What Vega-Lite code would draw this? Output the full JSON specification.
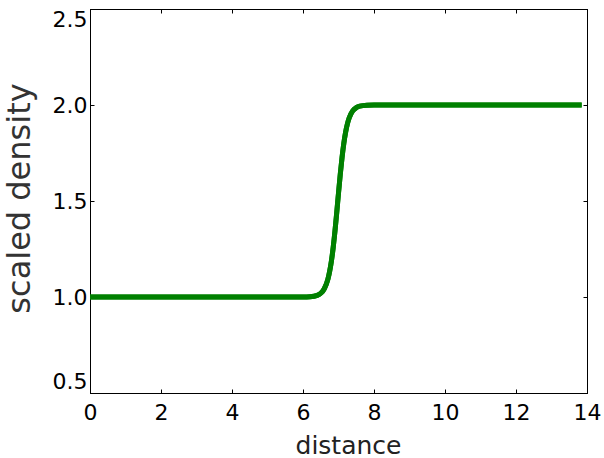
{
  "$schema": "https://vega.github.io/schema/vega-lite/v6.json",
  "width": 497,
  "height": 384,
  "autosize": "none",
  "padding": {"left": 90, "top": 9, "right": 17, "bottom": 65},
  "config": {
    "view": {"stroke": "black", "strokeWidth": 1},
    "font": "DejaVu Sans",
    "axis": {"grid": false, "domainColor": "black", "tickColor": "black", "labelColor": "black", "labelFont": "DejaVu Sans", "titleFont": "DejaVu Sans", "titleFontWeight": "normal", "labelFontSize": 22, "tickSize": -4}
  },
  "data": {"values": [
    {"distance": 0, "density": 1.0},
    {"distance": 3.0, "density": 1.0},
    {"distance": 5.5, "density": 1.0},
    {"distance": 6.0, "density": 1.0003},
    {"distance": 6.2, "density": 1.0017},
    {"distance": 6.4, "density": 1.0087},
    {"distance": 6.5, "density": 1.0195},
    {"distance": 6.6, "density": 1.043},
    {"distance": 6.7, "density": 1.0923},
    {"distance": 6.75, "density": 1.133},
    {"distance": 6.8, "density": 1.187},
    {"distance": 6.85, "density": 1.257},
    {"distance": 6.9, "density": 1.342},
    {"distance": 6.95, "density": 1.439},
    {"distance": 7.0, "density": 1.541},
    {"distance": 7.05, "density": 1.639},
    {"distance": 7.1, "density": 1.727},
    {"distance": 7.15, "density": 1.8},
    {"distance": 7.2, "density": 1.858},
    {"distance": 7.25, "density": 1.901},
    {"distance": 7.3, "density": 1.932},
    {"distance": 7.4, "density": 1.969},
    {"distance": 7.5, "density": 1.986},
    {"distance": 7.6, "density": 1.994},
    {"distance": 7.8, "density": 1.9988},
    {"distance": 8.0, "density": 1.9998},
    {"distance": 8.5, "density": 2.0},
    {"distance": 11.0, "density": 2.0},
    {"distance": 13.85, "density": 2.0}
  ]},
  "layer": [
    {
      "mark": {"type": "line", "color": "#008000", "strokeWidth": 5, "interpolate": "monotone", "clip": true},
      "encoding": {
        "x": {"field": "distance", "type": "quantitative", "scale": {"domain": [0, 14], "nice": false, "zero": false},
          "axis": {"orient": "bottom", "values": [0, 2, 4, 6, 8, 10, 12, 14], "labelPadding": 13, "title": "distance", "titleFontSize": 25, "titleColor": "#222", "titleX": 258, "titleY": 60, "titleAlign": "center", "titleBaseline": "alphabetic", "labelFlush": false}},
        "y": {"field": "density", "type": "quantitative", "scale": {"domain": [0.5, 2.5], "nice": false, "zero": false},
          "axis": {"orient": "left", "values": [0.5, 1.0, 1.5, 2.0, 2.5], "format": ".1f", "labelPadding": 7, "title": "scaled density", "titleFontSize": 32, "titleColor": "#333", "titleAngle": -90, "titleX": -61, "titleY": 189, "titleAlign": "center", "titleBaseline": "alphabetic", "labelFlush": true}}
      }
    },
    {
      "mark": {"type": "line", "color": "#008000", "strokeWidth": 5, "interpolate": "monotone", "clip": true},
      "encoding": {
        "x": {"field": "distance", "type": "quantitative", "axis": {"orient": "top", "values": [0, 2, 4, 6, 8, 10, 12, 14], "labels": false, "title": null}},
        "y": {"field": "density", "type": "quantitative", "axis": {"orient": "right", "values": [0.5, 1.0, 1.5, 2.0, 2.5], "labels": false, "title": null}}
      }
    }
  ],
  "resolve": {"axis": {"x": "independent", "y": "independent"}}
}
